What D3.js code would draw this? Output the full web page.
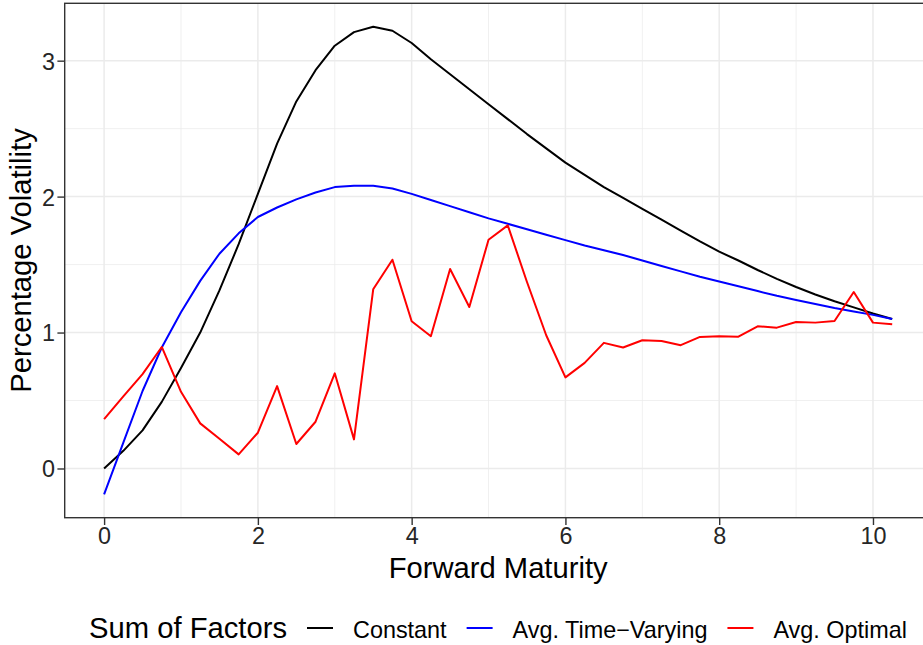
<!DOCTYPE html>
<html>
<head>
<meta charset="utf-8">
<script src="https://cdn.jsdelivr.net/npm/d3@7"></script>
<style>
  html, body { margin: 0; padding: 0; background: #fff; }
  svg { display: block; }
  text { font-family: "Liberation Sans", Arial, Helvetica, sans-serif; }
</style>
</head>
<body>
<svg id="chart" width="923" height="645"></svg>
<script>
// ---- data ----
const maturity = [0, 0.25, 0.5, 0.75, 1, 1.25, 1.5, 1.75, 2, 2.25, 2.5, 2.75, 3, 3.25, 3.5, 3.75,
  4, 4.25, 4.5, 4.75, 5, 5.25, 5.5, 5.75, 6, 6.25, 6.5, 6.75, 7, 7.25, 7.5, 7.75,
  8, 8.25, 8.5, 8.75, 9, 9.25, 9.5, 9.75, 10, 10.25];

const constantVol = [0, 0.13, 0.28, 0.49, 0.74, 1.00, 1.31, 1.65, 2.02, 2.39, 2.70, 2.93, 3.11, 3.21, 3.25, 3.22,
  3.13, 3.01, 2.90, 2.79, 2.68, 2.57, 2.46, 2.355, 2.25, 2.16, 2.07, 1.99, 1.91, 1.83, 1.75, 1.67,
  1.595, 1.53, 1.46, 1.395, 1.335, 1.28, 1.23, 1.185, 1.14, 1.10];

const timeVaryingVol = [-0.19, 0.19, 0.57, 0.89, 1.15, 1.38, 1.58, 1.73, 1.85, 1.92, 1.98, 2.03, 2.07, 2.08, 2.08, 2.06,
  2.02, 1.975, 1.93, 1.885, 1.84, 1.80, 1.76, 1.72, 1.68, 1.64, 1.605, 1.57, 1.53, 1.49, 1.45, 1.41,
  1.375, 1.34, 1.305, 1.27, 1.24, 1.21, 1.18, 1.155, 1.13, 1.10];

const optimalVol = [0.363, 0.53, 0.694, 0.894, 0.564, 0.332, 0.219, 0.104, 0.263, 0.606, 0.18, 0.344, 0.70, 0.214, 1.318, 1.536,
  1.083, 0.973, 1.467, 1.188, 1.683, 1.788, 1.372, 0.98, 0.67, 0.777, 0.924, 0.89, 0.943, 0.938, 0.907, 0.968,
  0.973, 0.97, 1.046, 1.036, 1.078, 1.073, 1.085, 1.298, 1.073, 1.061];

const seriesNames = ["Constant", "Avg. Time\u2212Varying", "Avg. Optimal"];
const seriesColors = ["#000000", "#0000FF", "#FF0000"];
const xTicks = [0, 2, 4, 6, 8, 10];
const xMinor = [1, 3, 5, 7, 9];
const yTicks = [0, 1, 2, 3];
const yMinor = [0.5, 1.5, 2.5];
const xTitle = "Forward Maturity";
const yTitle = "Percentage Volatility";
const legendTitle = "Sum of Factors";

// ---- layout ----
const svg = d3.select("#chart");
const panel = { left: 64.7, right: 931.6, top: 3.3, bottom: 517.7 };

const allVals = constantVol.concat(timeVaryingVol, optimalVol);
const xExt = d3.extent(maturity), yExt = d3.extent(allVals);
const xPad = (xExt[1] - xExt[0]) * 0.05, yPad = (yExt[1] - yExt[0]) * 0.05;

const x = d3.scaleLinear().domain([xExt[0] - xPad, xExt[1] + xPad]).range([panel.left, panel.right]);
const y = d3.scaleLinear().domain([yExt[0] - yPad, yExt[1] + yPad]).range([panel.bottom, panel.top]);

// panel background
svg.append("rect").attr("x", panel.left).attr("y", panel.top)
  .attr("width", panel.right - panel.left).attr("height", panel.bottom - panel.top).attr("fill", "#fff");

// grid
const grid = svg.append("g");
grid.selectAll(".xminor").data(xMinor).enter().append("line")
  .attr("x1", d => x(d)).attr("x2", d => x(d)).attr("y1", panel.top).attr("y2", panel.bottom)
  .attr("stroke", "#EBEBEB").attr("stroke-width", 0.75);
grid.selectAll(".yminor").data(yMinor).enter().append("line")
  .attr("y1", d => y(d)).attr("y2", d => y(d)).attr("x1", panel.left).attr("x2", panel.right)
  .attr("stroke", "#EBEBEB").attr("stroke-width", 0.75);
grid.selectAll(".xmajor").data(xTicks).enter().append("line")
  .attr("x1", d => x(d)).attr("x2", d => x(d)).attr("y1", panel.top).attr("y2", panel.bottom)
  .attr("stroke", "#EBEBEB").attr("stroke-width", 1.5);
grid.selectAll(".ymajor").data(yTicks).enter().append("line")
  .attr("y1", d => y(d)).attr("y2", d => y(d)).attr("x1", panel.left).attr("x2", panel.right)
  .attr("stroke", "#EBEBEB").attr("stroke-width", 1.5);

// lines
svg.append("clipPath").attr("id", "clip").append("rect")
  .attr("x", panel.left).attr("y", panel.top)
  .attr("width", panel.right - panel.left).attr("height", panel.bottom - panel.top);

const series = [constantVol, timeVaryingVol, optimalVol];
const line = d3.line().x((d, i) => x(maturity[i])).y(d => y(d));
const lines = svg.append("g").attr("clip-path", "url(#clip)");
series.forEach((s, k) => {
  lines.append("path").datum(s).attr("d", line)
    .attr("fill", "none").attr("stroke", seriesColors[k]).attr("stroke-width", 2)
    .attr("stroke-linejoin", "round").attr("stroke-linecap", "butt");
});

// border
svg.append("rect").attr("x", panel.left).attr("y", panel.top)
  .attr("width", panel.right - panel.left).attr("height", panel.bottom - panel.top)
  .attr("fill", "none").attr("stroke", "#333333").attr("stroke-width", 1.4);

// axes
const xAxis = svg.append("g").attr("transform", `translate(0,${panel.bottom})`)
  .call(d3.axisBottom(x).tickValues(xTicks).tickSize(7.3).tickPadding(3).tickFormat(d3.format("d")));
const yAxis = svg.append("g").attr("transform", `translate(${panel.left},0)`)
  .call(d3.axisLeft(y).tickValues(yTicks).tickSize(7.3).tickPadding(2.5).tickFormat(d3.format("d")));
[xAxis, yAxis].forEach(a => {
  a.select(".domain").remove();
  a.selectAll(".tick line").attr("stroke", "#333333").attr("stroke-width", 1.4);
  a.selectAll(".tick text").attr("fill", "#262626")
    .style("font-family", '"Liberation Sans", Arial, sans-serif').style("font-size", "23.4px");
});
xAxis.selectAll(".tick text").attr("dy", null).attr("y", 26.3);
yAxis.selectAll(".tick text").attr("dy", "0.36em");

// titles
svg.append("text").attr("x", (panel.left + panel.right) / 2).attr("y", 578)
  .attr("text-anchor", "middle").attr("font-size", 29.2).attr("fill", "#000").text(xTitle);
svg.append("text").attr("transform", `translate(30.5,${(panel.top + panel.bottom) / 2}) rotate(-90)`)
  .attr("text-anchor", "middle").attr("font-size", 29.2).attr("fill", "#000").text(yTitle);

// legend
const lg = svg.append("g");
const baseY = 637.5, keyY = 628;
const keyLen = 26, gap = 20;
let cx = 0;
const tt = lg.append("text").attr("x", cx).attr("y", baseY).attr("font-size", 29.2).text(legendTitle);
cx += tt.node().getComputedTextLength() + gap;
seriesNames.forEach((name, k) => {
  lg.append("line").attr("x1", cx).attr("x2", cx + keyLen).attr("y1", keyY).attr("y2", keyY)
    .attr("stroke", seriesColors[k]).attr("stroke-width", 2);
  cx += keyLen + gap;
  const t = lg.append("text").attr("x", cx).attr("y", baseY).attr("font-size", 23.4).text(name);
  cx += t.node().getComputedTextLength();
  if (k < seriesNames.length - 1) cx += gap;
});
const center = 498;
lg.attr("transform", `translate(${center - cx / 2},0)`);
</script>
</body>
</html>
